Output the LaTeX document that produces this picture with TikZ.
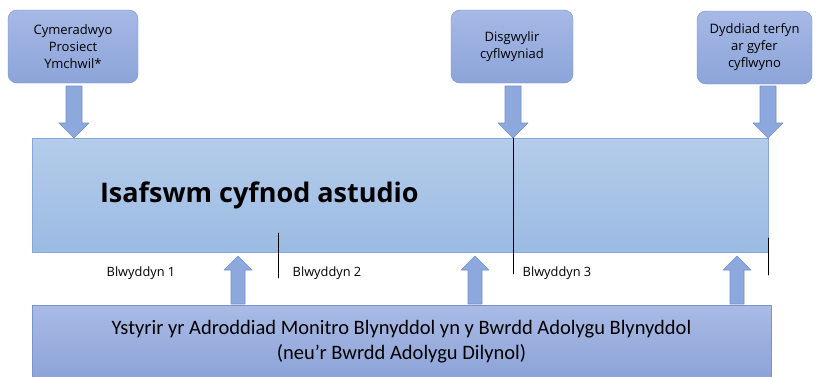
\documentclass[tikz,border=0pt]{standalone}
\usepackage{fontspec}
\setmainfont{Carlito}
\newfontfamily\uifont{Open Sans}
\usetikzlibrary{positioning}

\definecolor{smalltop}{HTML}{A6B9E6}
\definecolor{smallbot}{HTML}{8CA4D9}
\definecolor{smallline}{HTML}{7690CA}
\definecolor{bandtop}{HTML}{B5CCEA}
\definecolor{bandbot}{HTML}{9BBBE3}
\definecolor{bandline}{HTML}{85A8D8}
\definecolor{basetop}{HTML}{A9BBE5}
\definecolor{basebot}{HTML}{8DA3D8}
\definecolor{baseline}{HTML}{7B93CC}
\definecolor{arrfill}{HTML}{8DA8DC}
\definecolor{arrline}{HTML}{7390CB}

\tikzset{
  milestone/.style={draw=smallline, top color=smalltop, bottom color=smallbot, rounded corners=9pt,
    minimum height=73pt, align=center, inner sep=0pt,
    font=\uifont\fontsize{13}{17}\selectfont},
  blockarr/.style={fill=arrfill, draw=arrline, line width=0.6pt},
  yearlbl/.style={font=\uifont\fontsize{12.8}{14}\selectfont, inner sep=0pt}
}

\begin{document}
\begin{tikzpicture}[x=1pt, y=-1pt, line cap=round, line join=round]
\useasboundingbox (0,0) rectangle (821,376);

\node[milestone, minimum width=130pt] (approve) at (73,46.5) {Cymeradwyo\\Prosiect\\Ymchwil*};
\node[milestone, minimum width=122pt] (expected) at (512,46.5) {Disgwylir\\cyflwyniad};
\node[milestone, minimum width=115pt] (deadline) at (754.5,47.5) {Dyddiad terfyn\\ar gyfer\\cyflwyno};

\node[draw=bandline, top color=bandtop, bottom color=bandbot, minimum width=736pt, minimum height=114pt, inner sep=0pt] (period) at (400,195) {};
\node[right=68pt of period.west, inner sep=0pt, font=\uifont\bfseries\fontsize{27}{30}\selectfont] (title) {Isafswm cyfnod astudio};

\node[draw=baseline, top color=basetop, bottom color=basebot, minimum width=739pt, minimum height=73pt, align=center, inner sep=0pt,
  font=\fontsize{20.5}{25}\selectfont] (review) at (401.5,341.5)
  {Ystyrir yr Adroddiad Monitro Blynyddol yn y Bwrdd Adolygu Blynyddol\\(neu’r Bwrdd Adolygu Dilynol)};

% milestones down onto the band
\foreach \x in {74,513,768}
  \draw[blockarr] (\x-8,86)--(\x+8,86)--(\x+8,123)--(\x+15,123)--(\x,138)--(\x-15,123)--(\x-8,123)--cycle;
% review up to the band
\foreach \x in {238,475,737}
  \draw[blockarr] (\x-7,304)--(\x+7,304)--(\x+7,270)--(\x+14,270)--(\x,256)--(\x-14,270)--(\x-7,270)--cycle;

\draw[line width=0.9pt] (278,233)--(278,278);
\draw[line width=0.9pt] (513,138)--(513,274);
\draw[line width=0.9pt] (768,238)--(768,275);

\node[yearlbl] (yr1) at (141,273) {Blwyddyn 1};
\node[yearlbl] (yr2) at (327,273) {Blwyddyn 2};
\node[yearlbl] (yr3) at (557,273) {Blwyddyn 3};
\end{tikzpicture}
\end{document}
